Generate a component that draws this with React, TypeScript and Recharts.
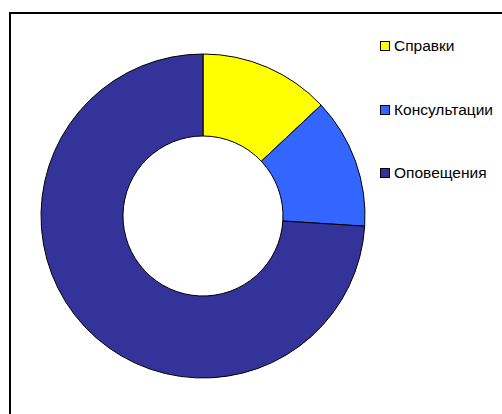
import React from "react";
import { PieChart, Pie, Cell, Legend } from "recharts";

const categories = ["Справки", "Консультации", "Оповещения"];
const values = [13, 13, 74];
const colors = ["#FFFF00", "#3366FF", "#333399"];

const data = categories.map((name, i) => ({ name, value: values[i] }));

const renderLegend = () => (
  <div style={{ fontFamily: "'Liberation Sans', Arial, sans-serif", fontSize: 15.5, color: "#000" }}>
    {categories.map((c, i) => (
      <div key={c} style={{ display: "flex", alignItems: "center", height: 20, marginBottom: i < categories.length - 1 ? 43.5 : 0 }}>
        <span
          style={{
            display: "inline-block",
            width: 8,
            height: 8,
            background: colors[i],
            border: "1px solid #000",
            marginRight: 4,
          }}
        />
        <span>{c}</span>
      </div>
    ))}
  </div>
);

export default function App() {
  return (
    <div style={{ position: "fixed", left: 0, top: 0, width: 502, height: 414, overflow: "hidden", background: "#fff" }}>
      <div
        style={{
          position: "absolute",
          left: 9,
          top: 12,
          width: 700,
          height: 700,
          borderTop: "2px solid #000",
          borderLeft: "2px solid #000",
          boxSizing: "border-box",
        }}
      />
      <div style={{ position: "absolute", left: 0, top: 0 }}>
        <PieChart width={502} height={414} margin={{ top: 0, right: 0, bottom: 0, left: 0 }}>
          <Pie
            data={data}
            dataKey="value"
            nameKey="name"
            cx={203}
            cy={216}
            outerRadius={162}
            innerRadius={80}
            startAngle={90}
            endAngle={-270}
            stroke="#000"
            strokeWidth={1}
            isAnimationActive={false}
          >
            {data.map((d, i) => (
              <Cell key={d.name} fill={colors[i]} />
            ))}
          </Pie>
          <Legend
            content={renderLegend}
            layout="vertical"
            wrapperStyle={{ position: "absolute", left: 380, top: 36, width: 122 }}
          />
        </PieChart>
      </div>
    </div>
  );
}
